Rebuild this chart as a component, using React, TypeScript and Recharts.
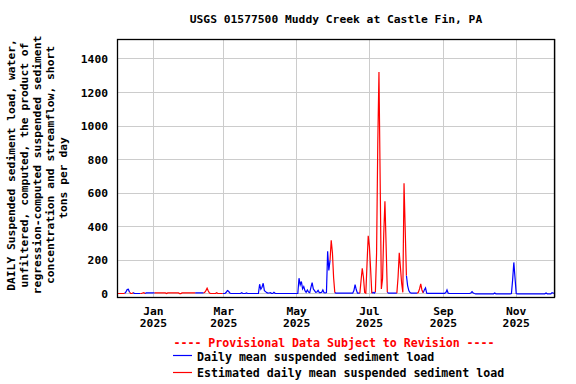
import { LineChart, Line, XAxis, YAxis, CartesianGrid } from "recharts";

// daily suspended sediment load, tons/day, Dec 1 2024 onward
const dec24 = [3, 3, 3, 3, 3, 3, 3, 4, 12, 26, 28, 10, 3, 3, 8, 4, 3, 3, 3, 3, 3, 3, 6, 8, 3, 6, 6, 6, 6, 6, 6];
const jan25 = [6, 6, 6, 6, 6, 6, 6, 6, 6, 6, 6, 2, 6, 6, 6, 6, 6, 6, 6, 6, 6, 6, 2, 2, 6, 6, 6, 6, 6, 6, 6];
const feb25 = [6, 6, 6, 6, 6, 6, 6, 6, 6, 6, 6, 6, 10, 20, 34, 18, 6, 3, 3, 3, 3, 3, 8, 3, 3, 3, 3, 3];
const mar25 = [3, 3, 10, 20, 16, 6, 3, 3, 3, 3, 3, 3, 3, 3, 3, 8, 3, 3, 3, 6, 3, 3, 3, 3, 3, 3, 3, 3, 3, 3, 58];
const apr25 = [28, 40, 64, 20, 14, 8, 5, 6, 8, 4, 3, 10, 4, 3, 3, 3, 3, 3, 3, 3, 3, 3, 3, 3, 3, 3, 3, 3, 3, 3];
const may25 = [3, 3, 94, 54, 74, 30, 44, 20, 10, 24, 12, 8, 40, 68, 30, 20, 10, 12, 22, 8, 8, 10, 24, 8, 6, 8, 254, 140, 200, 320, 246];
const jun25 = [97, 8, 5, 5, 5, 5, 5, 5, 5, 5, 5, 5, 5, 5, 5, 5, 5, 20, 56, 25, 5, 5, 5, 80, 153, 100, 10, 5, 180, 347];
const jul25 = [282, 149, 5, 10, 5, 12, 242, 893, 1323, 679, 30, 90, 357, 553, 286, 10, 5, 5, 5, 5, 5, 5, 5, 5, 100, 245, 157, 64, 10, 660, 381];
const aug25 = [110, 50, 20, 8, 5, 5, 5, 5, 5, 5, 10, 30, 60, 24, 8, 24, 36, 5, 4, 4, 4, 4, 4, 4, 4, 4, 4, 4, 4, 4, 4];
const sep25 = [4, 4, 8, 24, 5, 3, 3, 3, 3, 3, 3, 3, 3, 3, 3, 3, 3, 3, 3, 3, 3, 3, 3, 6, 14, 6, 3, 1, 1, 1];
const oct25 = [1, 1, 1, 1, 1, 1, 1, 1, 1, 1, 1, 1, 1, 6, 1, 1, 1, 1, 1, 1, 1, 1, 1, 1, 1, 1, 1, 3, 84, 188, 96];
const nov25 = [3, 1, 1, 1, 1, 1, 1, 1, 1, 1, 1, 1, 1, 1, 1, 1, 1, 1, 1, 1, 1, 1, 1, 1, 1, 6, 1, 1, 1, 1];
const dec25 = [8, 6, 3];

// day-index ranges (inclusive) flagged as estimated
const estimatedRanges = [
  [0, 6], [12, 13], [21, 23], [33, 65], [74, 80], [82, 85], [88, 88],
  [180, 182], [205, 208], [210, 213], [218, 226], [236, 242], [253, 256],
];

const monthTicks = [31, 90, 151, 212, 274, 335];
const monthLabels = ["Jan", "Mar", "May", "Jul", "Sep", "Nov"];
const yearLabel = "2025";
const yTicks = [0, 200, 400, 600, 800, 1000, 1200, 1400];

const title = "USGS 01577500 Muddy Creek at Castle Fin, PA";
const yLabelLines = [
  "DAILY Suspended sediment load, water,",
  "unfiltered, computed, the product of",
  "regression-computed suspended sediment",
  "concentration and streamflow, short",
  "tons per day",
];

const dailyLoad = [...dec24, ...jan25, ...feb25, ...mar25, ...apr25, ...may25, ...jun25, ...jul25, ...aug25, ...sep25, ...oct25, ...nov25, ...dec25];

const isEst = (i: number) => estimatedRanges.some(([a, b]) => i >= a && i <= b);

const data = dailyLoad.map((v, i) => {
  const est = isEst(i);
  const touchesEst = est || isEst(i - 1) || isEst(i + 1);
  return { day: i, mean: est ? null : v, estimated: touchesEst ? v : null };
});

const FONT = "'DejaVu Sans Mono', monospace";

function MonthTick(props: any) {
  const { x, y, payload } = props;
  const label = monthLabels[monthTicks.indexOf(payload.value)];
  const style = { fontFamily: FONT, fontWeight: "bold", fontSize: 11.3, fill: "#000" };
  return (
    <g>
      <text x={x} y={y + 14} textAnchor="middle" dominantBaseline="central" style={style}>{label}</text>
      <text x={x} y={y + 26} textAnchor="middle" dominantBaseline="central" style={style}>{yearLabel}</text>
    </g>
  );
}

export default function App() {
  const textStyle = { fontFamily: FONT, fontWeight: "bold" as const, fontSize: 11.3 };
  return (
    <div style={{ position: "absolute", left: 0, top: 0, width: 576, height: 384, background: "#fff" }}>
      <LineChart width={576} height={384} data={data} margin={{ top: 39, right: 21, bottom: 0, left: 0 }}>
        <CartesianGrid stroke="#cccccc" strokeWidth={1} shapeRendering="crispEdges" />
        <XAxis
          dataKey="day"
          type="number"
          domain={[0.5, 367.5]}
          allowDataOverflow
          ticks={monthTicks}
          interval={0}
          height={87}
          tickLine={false}
          tickSize={0}
          tickMargin={0}
          axisLine={false}
          tick={<MonthTick />}
        />
        <YAxis
          type="number"
          domain={[-18, 1519]}
          allowDataOverflow
          ticks={yTicks}
          interval={0}
          width={117}
          tickLine={false}
          tickSize={0}
          tickMargin={9}
          axisLine={false}
          tick={{ ...textStyle, fill: "#000" }}
        />
        <Line dataKey="mean" stroke="#0000ff" strokeWidth={1.2} dot={false} isAnimationActive={false} connectNulls={false} />
        <Line dataKey="estimated" stroke="#ff0000" strokeWidth={1.2} dot={false} isAnimationActive={false} connectNulls={false} />
      </LineChart>
      <svg width={576} height={384} style={{ position: "absolute", left: 0, top: 0, pointerEvents: "none" }}>
        <rect x={117.5} y={39.5} width={437} height={258} fill="none" stroke="#000" strokeWidth={1.3} />
        <text x={336} y={19} textAnchor="middle" dominantBaseline="central" style={textStyle}>{title}</text>
        {yLabelLines.map((line, i) => {
          const cx = 11.7 + i * 12.9;
          const cy = i === 4 ? 178 : 165;
          return (
            <text key={i} x={cx} y={cy} textAnchor="middle" dominantBaseline="central" transform={`rotate(-90 ${cx} ${cy})`} style={textStyle}>
              {line}
            </text>
          );
        })}
        <text x={334} y={343} textAnchor="middle" dominantBaseline="central" style={{ ...textStyle, fontSize: 11.6, fill: "#ff0000" }}>
          ---- Provisional Data Subject to Revision ----
        </text>
        <line x1={173} y1={355.5} x2={192} y2={355.5} stroke="#0000ff" strokeWidth={1.2} />
        <text x={197} y={356.5} dominantBaseline="central" style={{ ...textStyle, fontSize: 11.6 }}>Daily mean suspended sediment load</text>
        <line x1={173} y1={372.5} x2={192} y2={372.5} stroke="#ff0000" strokeWidth={1.2} />
        <text x={197} y={373} dominantBaseline="central" style={{ ...textStyle, fontSize: 11.6 }}>Estimated daily mean suspended sediment load</text>
      </svg>
    </div>
  );
}
